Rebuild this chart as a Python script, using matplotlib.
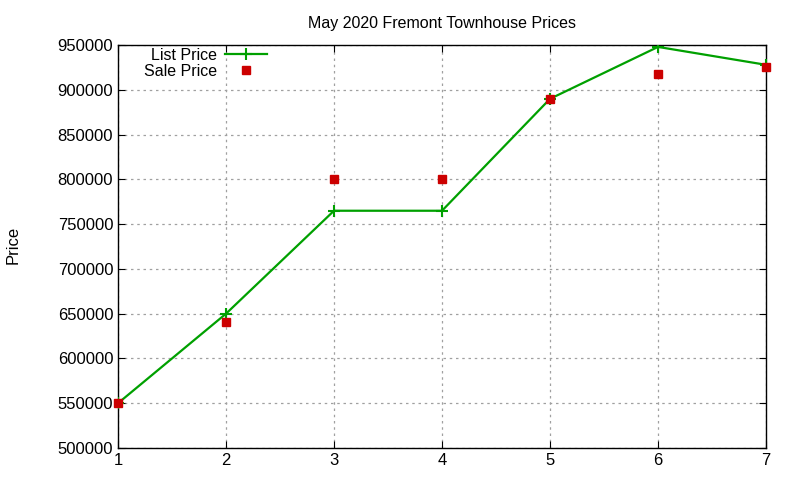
import matplotlib
matplotlib.use("Agg")
import matplotlib.pyplot as plt

x = [1, 2, 3, 4, 5, 6, 7]
list_price = [550000, 650000, 765000, 765000, 890000, 948000, 928000]
sale_price = [550000, 641000, 800000, 800000, 890000, 918000, 926000]
yticks = [500000, 550000, 600000, 650000, 700000, 750000, 800000, 850000, 900000, 950000]

plt.rcParams['font.family'] = ['Liberation Sans', 'DejaVu Sans']
fig = plt.figure(figsize=(8, 4.8), dpi=100)
ax = fig.add_axes([0.1475, 0.0667, 0.81, 0.8393])

l1, = ax.plot(x, list_price, color='#00a000', linewidth=1.6, marker='+', markersize=8,
              markeredgewidth=1.5, label='List Price', zorder=3)
l2, = ax.plot(x, sale_price, linestyle='none', marker='s', markersize=6, color='#cc0000',
              label='Sale Price', zorder=4, clip_on=False)

ax.set_xlim(1, 7)
ax.set_ylim(500000, 950000)
ax.set_xticks(x)
ax.set_yticks(yticks)
ax.set_yticklabels([str(v) for v in yticks])
ax.tick_params(direction='in', top=True, right=True, labelsize=12, length=5)
ax.grid(True, color='#a0a0a0', linestyle=(0, (2, 3)), linewidth=0.9)
for s in ax.spines.values():
    s.set_linewidth(1.0)

ax.set_title('May 2020 Fremont Townhouse Prices', fontsize=11.5, pad=12)
fig.text(0.016, 0.49, 'Price', rotation=90, fontsize=12, va='center', ha='center')

common = dict(frameon=False, markerfirst=False, fontsize=11.5, handlelength=2.63,
              borderaxespad=0, borderpad=0, handletextpad=0.5)
leg1 = ax.legend(handles=[l1], loc='center right', bbox_to_anchor=(0.23, 0.975), **common)
ax.add_artist(leg1)
leg2 = ax.legend(handles=[l2], loc='center right', bbox_to_anchor=(0.23, 0.935), **common)

fig.savefig('out.png', dpi=100)
